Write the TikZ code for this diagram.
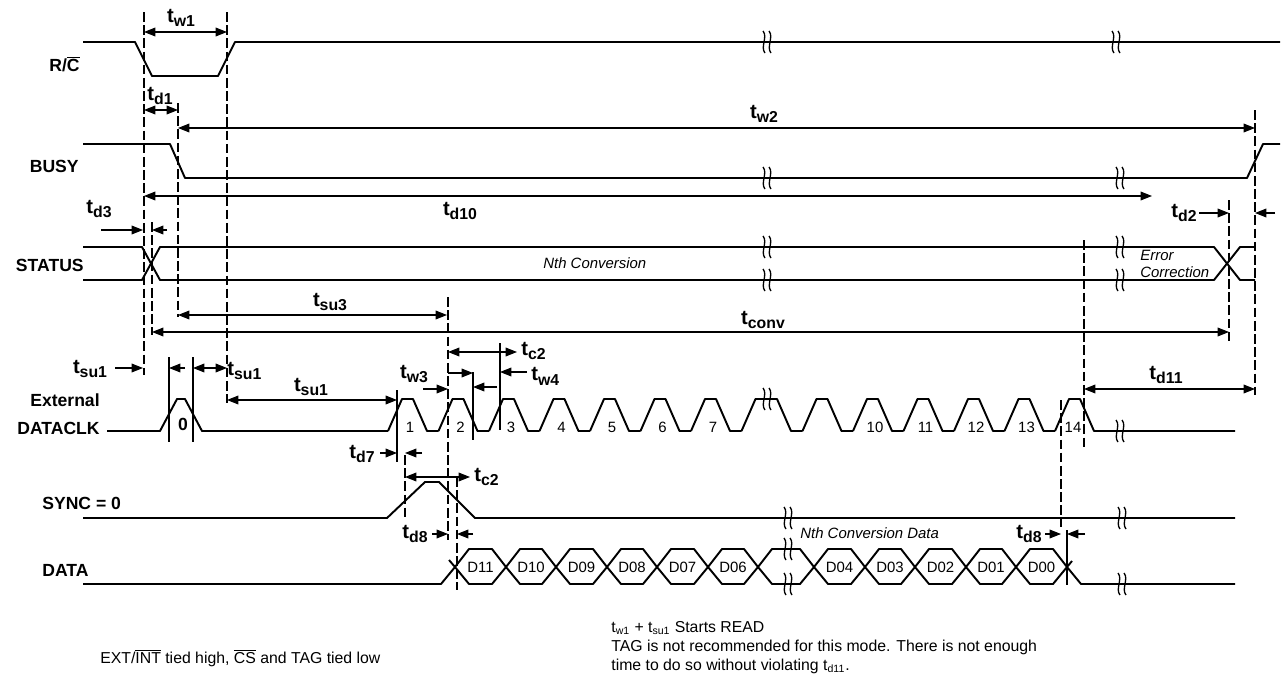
\documentclass[tikz,border=0pt]{standalone}
\usepackage{fontspec}
\setmainfont{Liberation Sans}
\usetikzlibrary{arrows.meta}

\newcommand\tdlabelstyle{\fontsize{10}{12}\selectfont\bfseries}
\newcommand\tdtimestyle{\fontsize{11.5}{13}\selectfont\bfseries}
\newcommand\tdtextstyle{\fontsize{8.5}{10}\selectfont}
\newcommand\tdnotestyle{\fontsize{9}{11}\selectfont}
\newcommand\sigstyle{[line width=1.1pt, line join=round]}
\newcommand\dimstyle{[line width=0.6pt]}
\newcommand\gridstyle{[line width=0.6pt, dash pattern=on 5.5pt off 2pt]}
\newcommand\tm[1]{t\raisebox{-0.45ex}{\fontsize{9}{10}\selectfont #1}}
\newcommand\tn[1]{t\textsubscript{#1}}
% break mark on a signal line
\newcommand\tdbreak[2]{
  \draw (#1-4,#2-11)[line width=0.75pt] .. controls (#1+1,#2-5) and (#1-7,#2+5) .. (#1-2,#2+11) ;
  \draw (#1+2,#2-11)[line width=0.75pt] .. controls (#1+7,#2-5) and (#1-1,#2+5) .. (#1+4,#2+11) ;
}
% one clock pulse, rising from #1
\newcommand\clkpulse[2]{
  \draw (#1,431)\sigstyle -- ++(14,-32) -- ++(11,0) -- ++(14,32) -- ++(11.5,0) ;
  \draw (#1+22,427) node {\tdtextstyle #2} ;
}
% one data cell between two crossings
\newcommand\buscell[3]{
  \draw (#1,567)\sigstyle -- (#1+14,549) -- (#2-14,549) -- (#2,567) -- (#2-14,584) -- (#1+14,584) -- cycle ;
  \draw ({(#1+#2)/2},567) node {\tdtextstyle #3} ;
}

\begin{document}
\begin{tikzpicture}[x=0.02cm, y=-0.02cm, >={Triangle[length=6.5pt,width=5pt]}]
  \useasboundingbox (0,0) rectangle (1283,683) ;
  % signal names
  \draw (80,64) node[anchor=east, inner sep=0pt]{\tdlabelstyle R/$\overline{\hbox{C}}$} ;
  \draw (79,166) node[anchor=east, inner sep=0pt]{\tdlabelstyle BUSY} ;
  \draw (84,265) node[anchor=east, inner sep=0pt]{\tdlabelstyle STATUS} ;
  \draw (100,400) node[anchor=east, inner sep=0pt]{\tdlabelstyle External} ;
  \draw (100,428) node[anchor=east, inner sep=0pt]{\tdlabelstyle DATACLK} ;
  \draw (42,503) node[anchor=west, inner sep=0pt]{\tdlabelstyle SYNC = 0} ;
  \draw (42,570) node[anchor=west, inner sep=0pt]{\tdlabelstyle DATA} ;
  % reference lines
  \draw (144,12)\gridstyle -- (144,375) ;
  \draw (227,12)\gridstyle -- (227,403) ;
  \draw (178,103)\gridstyle -- (178,317) ;
  \draw (152,222)\gridstyle -- (152,335) ;
  \draw (448,297)\gridstyle -- (448,540) ;
  \draw (405,455)\gridstyle -- (405,518) ;
  \draw (457,477)\gridstyle -- (457,590) ;
  \draw (1084,240)\gridstyle -- (1084,450) ;
  \draw (1061,400)\gridstyle -- (1061,527) ;
  \draw (1229,200)\gridstyle -- (1229,343) ;
  \draw (1255,110)\gridstyle -- (1255,395) ;
  \draw (169,357)\dimstyle -- (169,442) ;
  \draw (193,357)\dimstyle -- (193,442) ;
  \draw (397,390)\dimstyle -- (397,462) ;
  \draw (473,372)\dimstyle -- (473,440) ;
  \draw (500,343)\dimstyle -- (500,430) ;
  \draw (1067,530)\dimstyle -- (1067,585) ;
  % R/C
  \draw (83,42)\sigstyle -- (135,42) -- (152,76) -- (218,76) -- (235,42) -- (1280,42) ;
  \tdbreak{767}{42} \tdbreak{1116}{42}
  % BUSY
  \draw (83,144)\sigstyle -- (170,144) -- (185,178) -- (1247,178) -- (1263,144) -- (1280,144) ;
  \tdbreak{767}{178} \tdbreak{1120}{178}
  % STATUS
  \draw (83,247)\sigstyle -- (142,247) -- (160,280) -- (1214,280) -- (1240,247) -- (1255,247) ;
  \draw (83,280)\sigstyle -- (142,280) -- (160,247) -- (1214,247) -- (1240,280) -- (1255,280) ;
  \tdbreak{767}{247} \tdbreak{767}{280} \tdbreak{1120}{247} \tdbreak{1120}{280}
  \draw (543,263) node[anchor=west, inner sep=0pt]{\tdtextstyle\itshape Nth Conversion} ;
  \draw (1140,255) node[anchor=west, inner sep=0pt]{\tdtextstyle\itshape Error} ;
  \draw (1140,272) node[anchor=west, inner sep=0pt]{\tdtextstyle\itshape Correction} ;
  % DATACLK
  \draw (107,431)\sigstyle -- (160,431) -- (177,399) -- (185,399) -- (202,431) -- (388,431) ;
  \draw (183,424) node {\tdlabelstyle 0} ;
  \clkpulse{388}{1} \clkpulse{438.5}{2} \clkpulse{489}{3} \clkpulse{539.5}{4}
  \clkpulse{590}{5} \clkpulse{640.5}{6} \clkpulse{691}{7}
  \draw (741.5,431)\sigstyle -- (755.5,399) -- (777,399) -- (791,431) -- (802.5,431) ;
  \tdbreak{767}{399}
  \clkpulse{802.5}{} \clkpulse{853}{10} \clkpulse{903.5}{11} \clkpulse{954}{12} \clkpulse{1004.5}{13}
  \draw (1055,431)\sigstyle -- (1069,399) -- (1080,399) -- (1094,431) -- (1235,431) ;
  \draw (1073,427) node {\tdtextstyle 14} ;
  \tdbreak{1120}{431}
  % SYNC
  \draw (83,518)\sigstyle -- (387,518) -- (425,482) -- (439,482) -- (475,518) -- (1235,518) ;
  \tdbreak{788}{518} \tdbreak{1122}{518}
  % DATA
  \draw (83,584)\sigstyle -- (441,584) -- (455,567) ;
  \draw (449,560)\sigstyle -- (455,567) ;
  \buscell{455}{506}{D11} \buscell{506}{556}{D10} \buscell{556}{607}{D09}
  \buscell{607}{657}{D08} \buscell{657}{708}{D07} \buscell{708}{758}{D06}
  \buscell{758}{814}{}
  \buscell{814}{865}{D04} \buscell{865}{915}{D03} \buscell{915}{966}{D02}
  \buscell{966}{1016}{D01} \buscell{1016}{1067}{D00}
  \draw (1067,567)\sigstyle -- (1081,584) -- (1235,584) ;
  \draw (1067,567)\sigstyle -- (1072,561) ;
  \tdbreak{788}{549} \tdbreak{788}{584} \tdbreak{1122}{584}
  \draw (800,533) node[anchor=west, inner sep=0pt]{\tdtextstyle\itshape Nth Conversion Data} ;
  % timing arrows
  \draw (144,32)\dimstyle[<->] -- (227,32) ;
  \draw (181,18) node {\tdtimestyle\tm{w1}} ;
  \draw (144,110)\dimstyle[<->] -- (178,110) ;
  \draw (160,96) node {\tdtimestyle\tm{d1}} ;
  \draw (178,128)\dimstyle[<->] -- (1255,128) ;
  \draw (764,114) node {\tdtimestyle\tm{w2}} ;
  \draw (144,196)\dimstyle[<->] -- (1152,196) ;
  \draw (460,211) node {\tdtimestyle\tm{d10}} ;
  \draw (1199,213)\dimstyle[->] -- (1229,213) ;
  \draw (1275,213)\dimstyle[->] -- (1255,213) ;
  \draw (1184,213) node {\tdtimestyle\tm{d2}} ;
  \draw (101,230)\dimstyle[->] -- (143,230) ;
  \draw (167,230)\dimstyle[->] -- (152,230) ;
  \draw (99,209) node {\tdtimestyle\tm{d3}} ;
  \draw (178,315)\dimstyle[<->] -- (447,315) ;
  \draw (330,302) node {\tdtimestyle\tm{su3}} ;
  \draw (152,332)\dimstyle[<->] -- (1229,332) ;
  \draw (763,320) node {\tdtimestyle\tm{conv}} ;
  \draw (115,368)\dimstyle[->] -- (143,368) ;
  \draw (90,369) node {\tdtimestyle\tm{su1}} ;
  \draw (185,368)\dimstyle[->] -- (169,368) ;
  \draw (193,368)\dimstyle[<->] -- (227,368) ;
  \draw (227,371) node[anchor=west, inner sep=0pt]{\tdtimestyle\tm{su1}} ;
  \draw (227,400)\dimstyle[<->] -- (397,400) ;
  \draw (311,387) node {\tdtimestyle\tm{su1}} ;
  \draw (448,352)\dimstyle[<->] -- (500,352) -- (517,352) ;
  \draw (521,351) node[anchor=west, inner sep=0pt]{\tdtimestyle\tm{c2}} ;
  \draw (423,389)\dimstyle[->] -- (448,389) ;
  \draw (414,374) node {\tdtimestyle\tm{w3}} ;
  \draw (448,373)\dimstyle[->] -- (473,373) ;
  \draw (497,387)\dimstyle[->] -- (473,387) ;
  \draw (527,372)\dimstyle[->] -- (500,372) ;
  \draw (531,376) node[anchor=west, inner sep=0pt]{\tdtimestyle\tm{w4}} ;
  \draw (380,453)\dimstyle[->] -- (397,453) ;
  \draw (422,453)\dimstyle[->] -- (405,453) ;
  \draw (362,454) node {\tdtimestyle\tm{d7}} ;
  \draw (405,477)\dimstyle[<->] -- (448,477) -- (470,477) ;
  \draw (474,477) node[anchor=west, inner sep=0pt]{\tdtimestyle\tm{c2}} ;
  \draw (432,534)\dimstyle[->] -- (448,534) ;
  \draw (473,534)\dimstyle[->] -- (457,534) ;
  \draw (415,534) node {\tdtimestyle\tm{d8}} ;
  \draw (1045,534)\dimstyle[->] -- (1061,534) ;
  \draw (1085,534)\dimstyle[->] -- (1067,534) ;
  \draw (1029,534) node {\tdtimestyle\tm{d8}} ;
  \draw (1084,389)\dimstyle[<->] -- (1255,389) ;
  \draw (1166,375) node {\tdtimestyle\tm{d11}} ;
  % notes
  \draw (100,658) node[anchor=west, inner sep=0pt]{\tdnotestyle EXT/$\overline{\hbox{INT}}$ tied high, $\overline{\hbox{CS}}$ and TAG tied low} ;
  \draw (611,628) node[anchor=west, inner sep=0pt]{\tdnotestyle \tn{w1} + \tn{su1} Starts READ} ;
  \draw (611,647) node[anchor=west, inner sep=0pt]{\tdnotestyle TAG is not recommended for this mode. There is not enough} ;
  \draw (611,666) node[anchor=west, inner sep=0pt]{\tdnotestyle time to do so without violating \tn{d11}.} ;
\end{tikzpicture}
\end{document}
